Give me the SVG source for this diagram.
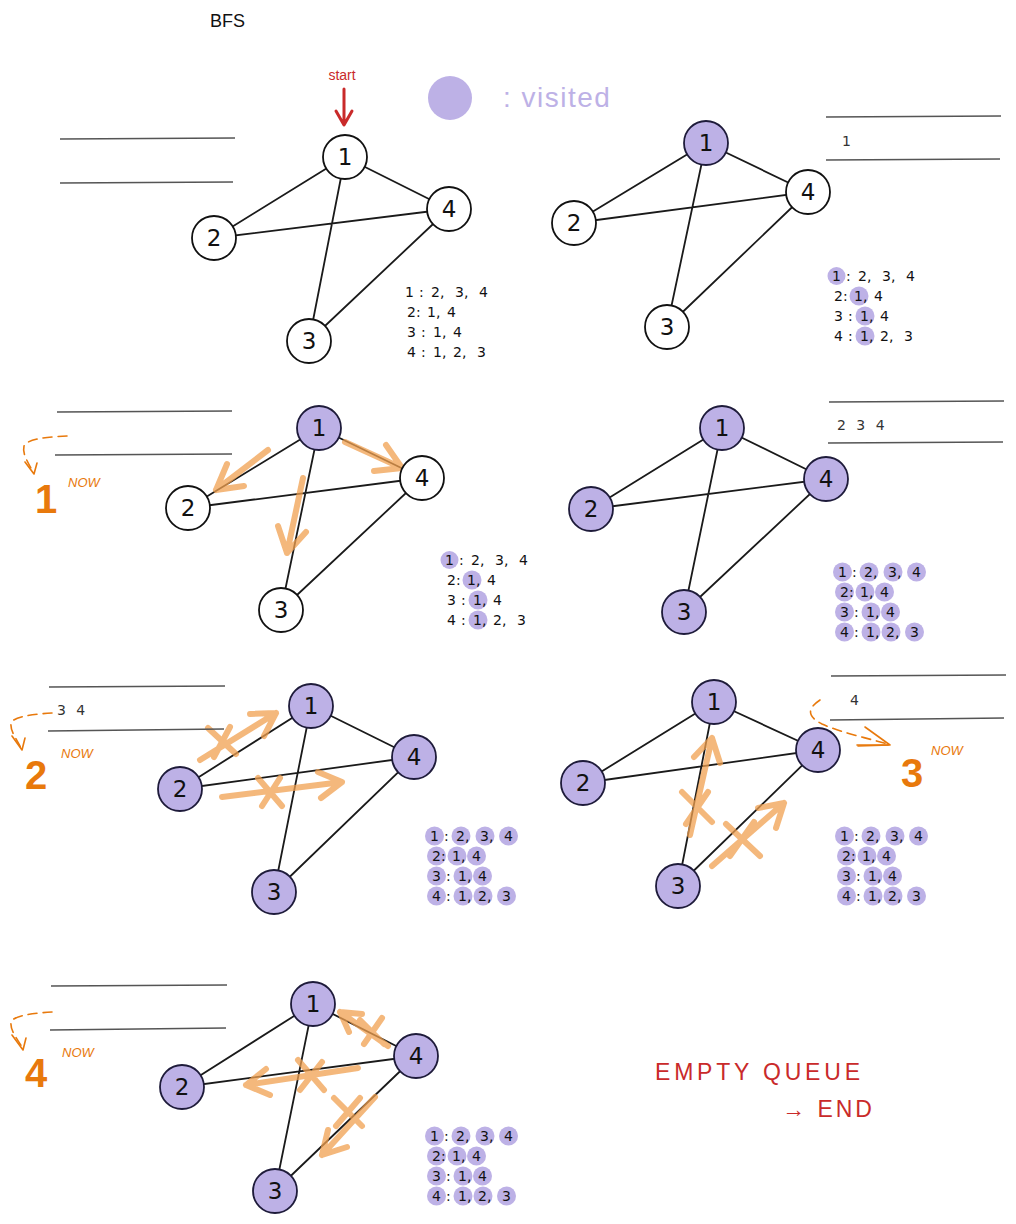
<svg xmlns="http://www.w3.org/2000/svg" xmlns:xlink="http://www.w3.org/1999/xlink" width="1016" height="1224" viewBox="0 0 1016 1224">
<style>
.bg{fill:#ffffff}
.edge{stroke:#1a1a1a;stroke-width:1.8;fill:none;stroke-linecap:round}
.nw{fill:#ffffff;stroke:#111;stroke-width:1.8}
.nv{fill:#bdb1e6;stroke:#1e1b3a;stroke-width:1.8}
.nt{font-family:"DejaVu Sans","Liberation Sans",sans-serif;font-size:23px;fill:#111;text-anchor:middle;dominant-baseline:central}
.q{stroke:#555;stroke-width:1.4;fill:none}
.qt{font-family:"DejaVu Sans","Liberation Sans",sans-serif;font-size:14px;fill:#333}
.adj{font-family:"DejaVu Sans","Liberation Sans",sans-serif;font-size:14px;fill:#111}
.hl{fill:#bdb1e6}
.oa{stroke:#f0a050;stroke-opacity:0.75;stroke-width:6;fill:none;stroke-linecap:round;stroke-linejoin:round}
.dash{stroke:#e8790c;stroke-width:1.6;fill:none;stroke-dasharray:9 6;stroke-linecap:round}
.dh{stroke:#e8790c;stroke-width:1.6;fill:none;stroke-linecap:round;stroke-linejoin:round}
.big{font-family:"Liberation Sans",sans-serif;font-size:40px;font-weight:bold;fill:#e8790c}
.now{font-family:"Liberation Sans",sans-serif;font-size:13px;font-style:italic;fill:#e8790c}
.red{font-family:"Liberation Sans",sans-serif;fill:#c92a2a}
</style>
<defs>
<g id="adj" class="adj">
<text x="0" y="0">1</text><text x="14" y="0">:</text><text x="26" y="0">2,</text><text x="50" y="0">3,</text><text x="74" y="0">4</text>
<text x="2" y="20">2</text><text x="11" y="20">:</text><text x="22" y="20">1,</text><text x="42" y="20">4</text>
<text x="2" y="40">3</text><text x="16" y="40">:</text><text x="28" y="40">1,</text><text x="48" y="40">4</text>
<text x="2" y="60">4</text><text x="16" y="60">:</text><text x="28" y="60">1,</text><text x="48" y="60">2,</text><text x="72" y="60">3</text>
</g>
<g id="hlPart" class="hl">
<circle cx="4.5" cy="-5" r="9"/>
<circle cx="27" cy="15" r="9.5"/>
<circle cx="33" cy="35" r="9.5"/>
<circle cx="33" cy="55" r="9.5"/>
</g>
<g id="hlAll" class="hl">
<circle cx="4.5" cy="-5" r="9.5"/><circle cx="31" cy="-5" r="9.5"/><circle cx="55" cy="-5" r="9.5"/><circle cx="78.5" cy="-5" r="9.5"/>
<circle cx="6.5" cy="15" r="9.5"/><circle cx="27" cy="15" r="9.5"/><circle cx="46.5" cy="15" r="9.5"/>
<circle cx="6.5" cy="35" r="9.5"/><circle cx="33" cy="35" r="9.5"/><circle cx="52.5" cy="35" r="9.5"/>
<circle cx="6.5" cy="55" r="9.5"/><circle cx="33" cy="55" r="9.5"/><circle cx="53" cy="55" r="9.5"/><circle cx="76.5" cy="55" r="9.5"/>
</g>
</defs>
<rect class="bg" x="0" y="0" width="1016" height="1224"/>

<g id="title">
<text x="210" y="27" font-family="Liberation Sans,sans-serif" font-size="18" fill="#111">BFS</text>
</g>
<g id="start-label">
<text x="342" y="80" class="red" font-size="14" text-anchor="middle">start</text>
<path d="M344,89 L344,124 M336,111 L344,125 L352,111" stroke="#c92a2a" stroke-width="3" fill="none" stroke-linecap="round" stroke-linejoin="round"/>
</g>
<g id="legend">
<circle cx="450" cy="98" r="22" fill="#bdb1e6"/>
<text x="503" y="107" font-family="Liberation Sans,sans-serif" font-size="28" letter-spacing="1.5" fill="#bdb1e6">: visited</text>
</g>

<g id="connectors">
<path class="edge" d="M345,157 L214,238 M345,157 L449,209 M345,157 L309,341 M214,238 L449,209 M309,341 L449,209"/>
<path class="edge" d="M706,143 L574,223 M706,143 L808,192 M706,143 L667,327 M574,223 L808,192 M667,327 L808,192"/>
<path class="edge" d="M319,428 L188,508 M319,428 L422,478 M319,428 L281,610 M188,508 L422,478 M281,610 L422,478"/>
<path class="edge" d="M722,428 L591,509 M722,428 L826,479 M722,428 L684,612 M591,509 L826,479 M684,612 L826,479"/>
<path class="edge" d="M311,706 L180,789 M311,706 L414,757 M311,706 L274,892 M180,789 L414,757 M274,892 L414,757"/>
<path class="edge" d="M714,702 L583,783 M714,702 L818,750 M714,702 L678,886 M583,783 L818,750 M678,886 L818,750"/>
<path class="edge" d="M313,1004 L182,1087 M313,1004 L416,1056 M313,1004 L275,1191 M182,1087 L416,1056 M275,1191 L416,1056"/>

<path class="oa" d="M268,450 L216,490 M227,464 L216,490 L244,486"/>
<path class="oa" d="M345,442 L402,468 M386,445 L402,468 L374,471"/>
<path class="oa" d="M303,478 L287,553 M278,526 L287,553 L306,532"/>

<path class="oa" d="M200,760 L276,713 M250,714 L276,713 L264,736 M208,728 L236,754 M230,727 L214,757"/>
<path class="oa" d="M222,797 L342,782 M318,772 L342,782 L321,798 M258,778 L282,806 M280,778 L262,806"/>

<path class="oa" d="M690,835 L712,738 M694,757 L712,738 L720,763 M682,792 L712,822 M708,792 L686,824"/>
<path class="oa" d="M712,866 L784,803 M758,808 L784,803 L776,828 M726,824 L760,856 M754,822 L730,856"/>

<path class="oa" d="M388,1046 L340,1012 M349,1032 L340,1012 L362,1014 M360,1020 L384,1044 M382,1018 L364,1044"/>
<path class="oa" d="M358,1068 L246,1085 M266,1069 L246,1085 L270,1095 M298,1060 L324,1090 M322,1062 L300,1090"/>
<path class="oa" d="M375,1097 L322,1155 M328,1130 L322,1155 L347,1147 M334,1098 L362,1126 M360,1098 L336,1126"/>

<path class="dash" d="M67,436 C50,437 28,438 24,446 C22,454 28,462 33,472"/>
<path class="dh" d="M25,462 L34,474 L37,463"/>
<path class="dash" d="M52,713 C36,714 14,716 11,723 C10,731 16,738 21,748"/>
<path class="dh" d="M12,736 L22,750 L25,738"/>
<path class="dash" d="M52,1012 C36,1013 14,1015 11,1022 C10,1030 16,1037 22,1047"/>
<path class="dh" d="M12,1035 L23,1050 L26,1038"/>
<path class="dash" d="M820,700 C808,708 806,716 822,724 C840,732 866,738 888,744"/>
<path class="dh" d="M865,727 L890,745 L858,746"/>
<path class="dh" d="M857,745 L888,745"/>
</g>

<g id="queues">
<path class="q" d="M60,139 L235,138 M60,183 L233,182"/>
<path class="q" d="M826,117 L1001,116 M826,160 L1000,159"/>
<text class="qt" x="842" y="146">1</text>
<path class="q" d="M57,412 L232,411 M55,455 L232,454"/>
<path class="q" d="M829,402 L1004,401 M828,443 L1003,442"/>
<text class="qt" x="837" y="430" letter-spacing="3">2 3 4</text>
<path class="q" d="M49,687 L225,686 M48,731 L224,729"/>
<text class="qt" x="57" y="715" letter-spacing="3">3 4</text>
<path class="q" d="M831,676 L1006,675 M830,720 L1004,718"/>
<text class="qt" x="850" y="705">4</text>
<path class="q" d="M51,986 L227,985 M50,1030 L226,1028"/>
</g>

<g id="step-labels">
<text class="big" x="35" y="513">1</text><text class="now" x="68" y="487">NOW</text>
<text class="big" x="25" y="789">2</text><text class="now" x="61" y="758">NOW</text>
<text class="big" x="901" y="787">3</text><text class="now" x="931" y="755">NOW</text>
<text class="big" x="25" y="1087">4</text><text class="now" x="62" y="1057">NOW</text>
</g>

<g id="end-label">
<text class="red" x="655" y="1080" font-size="23" letter-spacing="3.8">EMPTY QUEUE</text>
<text class="red" x="782" y="1117" font-size="23" letter-spacing="3">→ END</text>
</g>

<g id="adj1" transform="translate(405,297)"><use href="#adj"/></g>
<g id="adj2" transform="translate(832,281)"><use href="#hlPart"/><use href="#adj"/></g>
<g id="adj3" transform="translate(445,565)"><use href="#hlPart"/><use href="#adj"/></g>
<g id="adj4" transform="translate(838,577)"><use href="#hlAll"/><use href="#adj"/></g>
<g id="adj5" transform="translate(430,841)"><use href="#hlAll"/><use href="#adj"/></g>
<g id="adj6" transform="translate(840,841)"><use href="#hlAll"/><use href="#adj"/></g>
<g id="adj7" transform="translate(430,1141)"><use href="#hlAll"/><use href="#adj"/></g>

<g id="p1n1"><circle class="nw" cx="345" cy="157" r="22"/><text class="nt" x="345" y="157">1</text></g>
<g id="p1n2"><circle class="nw" cx="214" cy="238" r="22"/><text class="nt" x="214" y="238">2</text></g>
<g id="p1n3"><circle class="nw" cx="309" cy="341" r="22"/><text class="nt" x="309" y="341">3</text></g>
<g id="p1n4"><circle class="nw" cx="449" cy="209" r="22"/><text class="nt" x="449" y="209">4</text></g>
<g id="p2n1"><circle class="nv" cx="706" cy="143" r="22"/><text class="nt" x="706" y="143">1</text></g>
<g id="p2n2"><circle class="nw" cx="574" cy="223" r="22"/><text class="nt" x="574" y="223">2</text></g>
<g id="p2n3"><circle class="nw" cx="667" cy="327" r="22"/><text class="nt" x="667" y="327">3</text></g>
<g id="p2n4"><circle class="nw" cx="808" cy="192" r="22"/><text class="nt" x="808" y="192">4</text></g>
<g id="p3n1"><circle class="nv" cx="319" cy="428" r="22"/><text class="nt" x="319" y="428">1</text></g>
<g id="p3n2"><circle class="nw" cx="188" cy="508" r="22"/><text class="nt" x="188" y="508">2</text></g>
<g id="p3n3"><circle class="nw" cx="281" cy="610" r="22"/><text class="nt" x="281" y="610">3</text></g>
<g id="p3n4"><circle class="nw" cx="422" cy="478" r="22"/><text class="nt" x="422" y="478">4</text></g>
<g id="p4n1"><circle class="nv" cx="722" cy="428" r="22"/><text class="nt" x="722" y="428">1</text></g>
<g id="p4n2"><circle class="nv" cx="591" cy="509" r="22"/><text class="nt" x="591" y="509">2</text></g>
<g id="p4n3"><circle class="nv" cx="684" cy="612" r="22"/><text class="nt" x="684" y="612">3</text></g>
<g id="p4n4"><circle class="nv" cx="826" cy="479" r="22"/><text class="nt" x="826" y="479">4</text></g>
<g id="p5n1"><circle class="nv" cx="311" cy="706" r="22"/><text class="nt" x="311" y="706">1</text></g>
<g id="p5n2"><circle class="nv" cx="180" cy="789" r="22"/><text class="nt" x="180" y="789">2</text></g>
<g id="p5n3"><circle class="nv" cx="274" cy="892" r="22"/><text class="nt" x="274" y="892">3</text></g>
<g id="p5n4"><circle class="nv" cx="414" cy="757" r="22"/><text class="nt" x="414" y="757">4</text></g>
<g id="p6n1"><circle class="nv" cx="714" cy="702" r="22"/><text class="nt" x="714" y="702">1</text></g>
<g id="p6n2"><circle class="nv" cx="583" cy="783" r="22"/><text class="nt" x="583" y="783">2</text></g>
<g id="p6n3"><circle class="nv" cx="678" cy="886" r="22"/><text class="nt" x="678" y="886">3</text></g>
<g id="p6n4"><circle class="nv" cx="818" cy="750" r="22"/><text class="nt" x="818" y="750">4</text></g>
<g id="p7n1"><circle class="nv" cx="313" cy="1004" r="22"/><text class="nt" x="313" y="1004">1</text></g>
<g id="p7n2"><circle class="nv" cx="182" cy="1087" r="22"/><text class="nt" x="182" y="1087">2</text></g>
<g id="p7n3"><circle class="nv" cx="275" cy="1191" r="22"/><text class="nt" x="275" y="1191">3</text></g>
<g id="p7n4"><circle class="nv" cx="416" cy="1056" r="22"/><text class="nt" x="416" y="1056">4</text></g>
</svg>
